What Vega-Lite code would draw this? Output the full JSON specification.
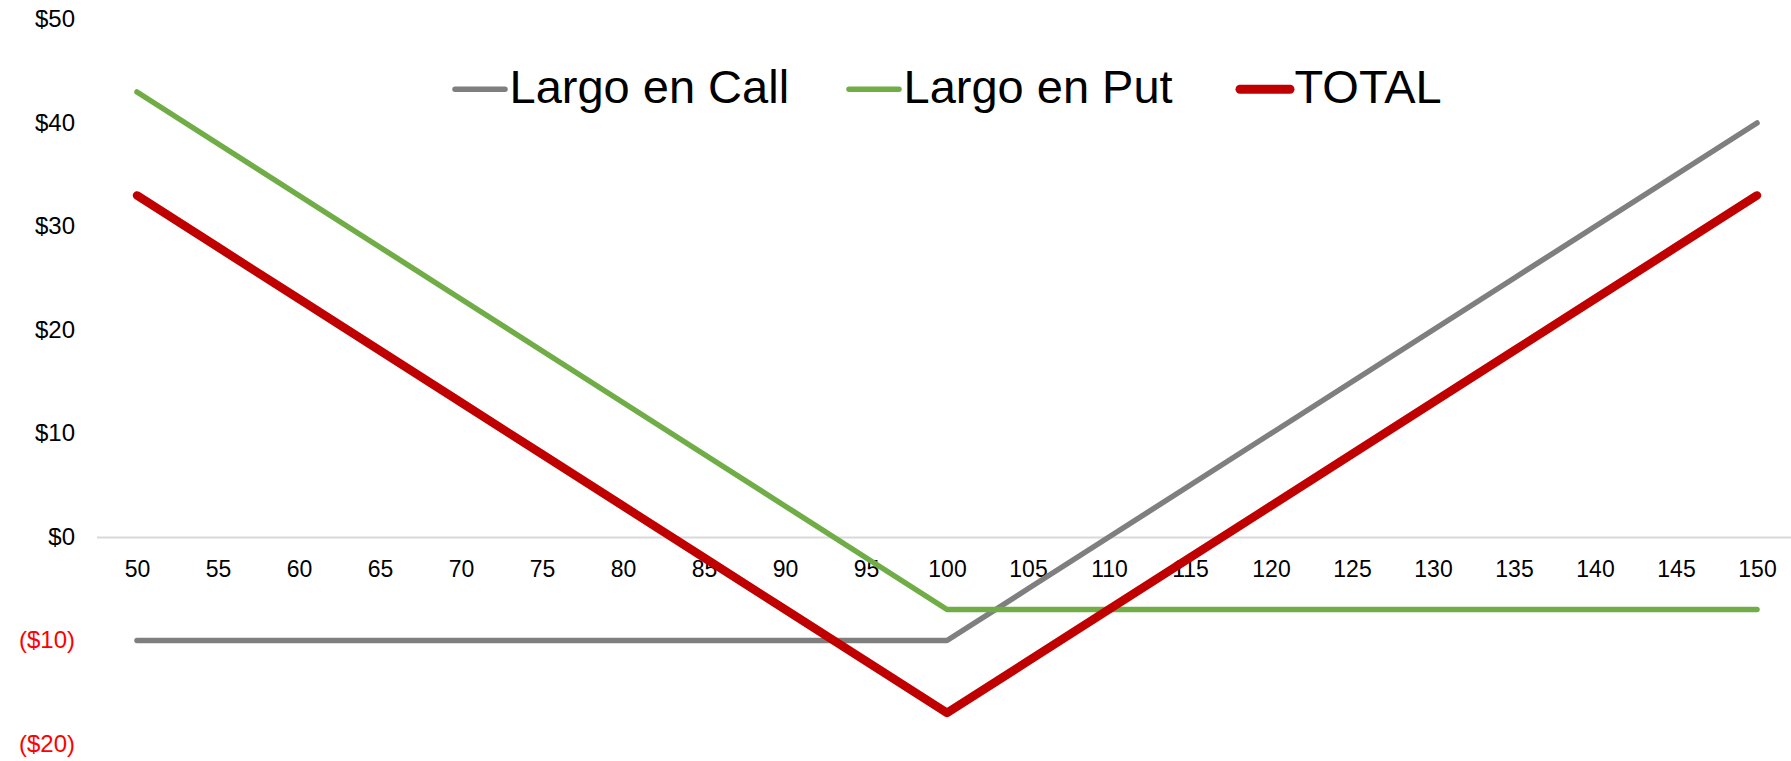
{
  "$schema": "https://vega.github.io/schema/vega-lite/v6.json",
  "width": 1701,
  "height": 724.5,
  "autosize": {"type": "none"},
  "padding": {"left": 96.5, "top": 19.5, "right": 0, "bottom": 17},
  "background": "white",
  "config": {"view": {"stroke": null}, "font": "Liberation Sans"},
  "data": {"values": [
    {"strike":50,"serie":"Largo en Call","valor":-10},{"strike":55,"serie":"Largo en Call","valor":-10},{"strike":60,"serie":"Largo en Call","valor":-10},{"strike":65,"serie":"Largo en Call","valor":-10},{"strike":70,"serie":"Largo en Call","valor":-10},{"strike":75,"serie":"Largo en Call","valor":-10},{"strike":80,"serie":"Largo en Call","valor":-10},{"strike":85,"serie":"Largo en Call","valor":-10},{"strike":90,"serie":"Largo en Call","valor":-10},{"strike":95,"serie":"Largo en Call","valor":-10},{"strike":100,"serie":"Largo en Call","valor":-10},{"strike":105,"serie":"Largo en Call","valor":-5},{"strike":110,"serie":"Largo en Call","valor":0},{"strike":115,"serie":"Largo en Call","valor":5},{"strike":120,"serie":"Largo en Call","valor":10},{"strike":125,"serie":"Largo en Call","valor":15},{"strike":130,"serie":"Largo en Call","valor":20},{"strike":135,"serie":"Largo en Call","valor":25},{"strike":140,"serie":"Largo en Call","valor":30},{"strike":145,"serie":"Largo en Call","valor":35},{"strike":150,"serie":"Largo en Call","valor":40},
    {"strike":50,"serie":"Largo en Put","valor":43},{"strike":55,"serie":"Largo en Put","valor":38},{"strike":60,"serie":"Largo en Put","valor":33},{"strike":65,"serie":"Largo en Put","valor":28},{"strike":70,"serie":"Largo en Put","valor":23},{"strike":75,"serie":"Largo en Put","valor":18},{"strike":80,"serie":"Largo en Put","valor":13},{"strike":85,"serie":"Largo en Put","valor":8},{"strike":90,"serie":"Largo en Put","valor":3},{"strike":95,"serie":"Largo en Put","valor":-2},{"strike":100,"serie":"Largo en Put","valor":-7},{"strike":105,"serie":"Largo en Put","valor":-7},{"strike":110,"serie":"Largo en Put","valor":-7},{"strike":115,"serie":"Largo en Put","valor":-7},{"strike":120,"serie":"Largo en Put","valor":-7},{"strike":125,"serie":"Largo en Put","valor":-7},{"strike":130,"serie":"Largo en Put","valor":-7},{"strike":135,"serie":"Largo en Put","valor":-7},{"strike":140,"serie":"Largo en Put","valor":-7},{"strike":145,"serie":"Largo en Put","valor":-7},{"strike":150,"serie":"Largo en Put","valor":-7},
    {"strike":50,"serie":"TOTAL","valor":33},{"strike":55,"serie":"TOTAL","valor":28},{"strike":60,"serie":"TOTAL","valor":23},{"strike":65,"serie":"TOTAL","valor":18},{"strike":70,"serie":"TOTAL","valor":13},{"strike":75,"serie":"TOTAL","valor":8},{"strike":80,"serie":"TOTAL","valor":3},{"strike":85,"serie":"TOTAL","valor":-2},{"strike":90,"serie":"TOTAL","valor":-7},{"strike":95,"serie":"TOTAL","valor":-12},{"strike":100,"serie":"TOTAL","valor":-17},{"strike":105,"serie":"TOTAL","valor":-12},{"strike":110,"serie":"TOTAL","valor":-7},{"strike":115,"serie":"TOTAL","valor":-2},{"strike":120,"serie":"TOTAL","valor":3},{"strike":125,"serie":"TOTAL","valor":8},{"strike":130,"serie":"TOTAL","valor":13},{"strike":135,"serie":"TOTAL","valor":18},{"strike":140,"serie":"TOTAL","valor":23},{"strike":145,"serie":"TOTAL","valor":28},{"strike":150,"serie":"TOTAL","valor":33}
  ]},
  "mark": {"type": "line", "strokeCap": "round", "strokeJoin": "round"},
  "encoding": {
    "x": {
      "field": "strike", "type": "ordinal",
      "scale": {"type": "point", "padding": 0.5},
      "axis": {
        "title": null, "orient": "bottom", "offset": -207,
        "labelAngle": 0, "labelFont": "Liberation Sans", "labelFontSize": 23, "labelColor": "black",
        "labelPadding": 21, "ticks": false, "tickSize": 0,
        "domain": true, "domainColor": "#d9d9d9", "domainWidth": 2, "grid": false
      }
    },
    "y": {
      "field": "valor", "type": "quantitative",
      "scale": {"domain": [-20, 50], "nice": false, "zero": false},
      "axis": {
        "title": null, "values": [-20, -10, 0, 10, 20, 30, 40, 50],
        "labelExpr": "datum.value < 0 ? '($' + abs(datum.value) + ')' : '$' + datum.value + '\u00a0'",
        "labelColor": {"expr": "datum.value < 0 ? '#ff0000' : '#000000'"},
        "labelFont": "Liberation Sans", "labelFontSize": 24, "labelFlush": false,
        "labelPadding": 22, "ticks": false, "tickSize": 0, "domain": false, "grid": false
      }
    },
    "strokeWidth": {
      "condition": {"test": "datum.serie === 'TOTAL'", "value": 8.5},
      "value": 5.5
    },
    "color": {
      "field": "serie", "type": "nominal",
      "scale": {"domain": ["Largo en Call", "Largo en Put", "TOTAL"], "range": ["#7f7f7f", "#70ad47", "#c00000"]},
      "legend": {
        "title": null, "orient": "none", "direction": "horizontal",
        "legendX": 360, "legendY": 46,
        "symbolType": "stroke", "symbolSize": 2500,
        "labelFont": "Liberation Sans", "labelFontSize": 47, "labelColor": "black",
        "labelOffset": 6, "columnPadding": 48, "labelLimit": 600, "padding": 0,
        "encode": {"symbols": {"update": {"strokeWidth": {"signal": "datum.value === 'TOTAL' ? 9 : 5.5"}, "strokeCap": {"value": "round"}}}}
      }
    }
  }
}
